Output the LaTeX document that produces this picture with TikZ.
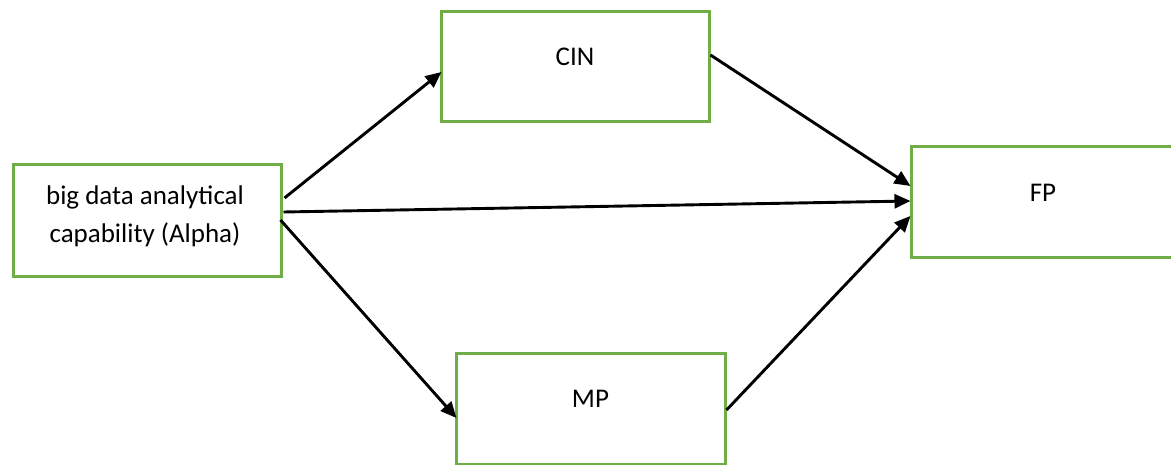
\documentclass[tikz,border=0pt]{standalone}
\usepackage{fontspec}
\setmainfont{Carlito}
\usetikzlibrary{arrows.meta}
\definecolor{boxgreen}{HTML}{70AD47}
\tikzset{
  box/.style={draw=boxgreen, line width=3pt, fill=white, rectangle, inner sep=0pt, minimum width=268pt, minimum height=111pt},
  lbl/.style={inner sep=0pt, font=\fontsize{27pt}{38pt}\selectfont, align=center},
  arr/.style={line width=2.9pt, -{Triangle[length=16pt,width=14pt]}},
}
\begin{document}
\begin{tikzpicture}[x=1pt,y=1pt]
\useasboundingbox (0,0) rectangle (1171,464);
\fill[white] (0,0) rectangle (1171,464);
\node[box, minimum height=112pt] (bdac) at (147,243) {};
\node[box, minimum height=110pt] (cin) at (575,397) {};
\node[box] (fp) at (1045,261.5) {};
\node[box, minimum width=269pt, minimum height=110pt] (mp) at (590.5,55) {};
\node[lbl] (bdact) at ([xshift=-2pt,yshift=5pt]bdac.center) {big data analytical\\capability (Alpha)};
\node[lbl] (cint) at ([yshift=10pt]cin.center) {CIN};
\node[lbl] (fpt) at ([xshift=-2pt,yshift=9.5pt]fp.center) {FP};
\node[lbl] (mpt) at ([yshift=10pt]mp.center) {MP};
\draw[arr] ([xshift=2pt,yshift=23pt]bdac.east) -- ([xshift=2pt,yshift=-5pt]cin.west);
\draw[arr] ([yshift=12pt]cin.east) -- ([xshift=1pt,yshift=16.5pt]fp.west);
\draw[arr] ([xshift=1pt,yshift=9pt]bdac.east) -- ([xshift=1pt,yshift=1.5pt]fp.west);
\draw[arr] ([xshift=-2pt,yshift=1pt]bdac.east) -- ([xshift=2pt,yshift=-9pt]mp.west);
\draw[arr] ([yshift=-1pt]mp.east) -- ([xshift=1pt,yshift=-13.5pt]fp.west);
\end{tikzpicture}
\end{document}
